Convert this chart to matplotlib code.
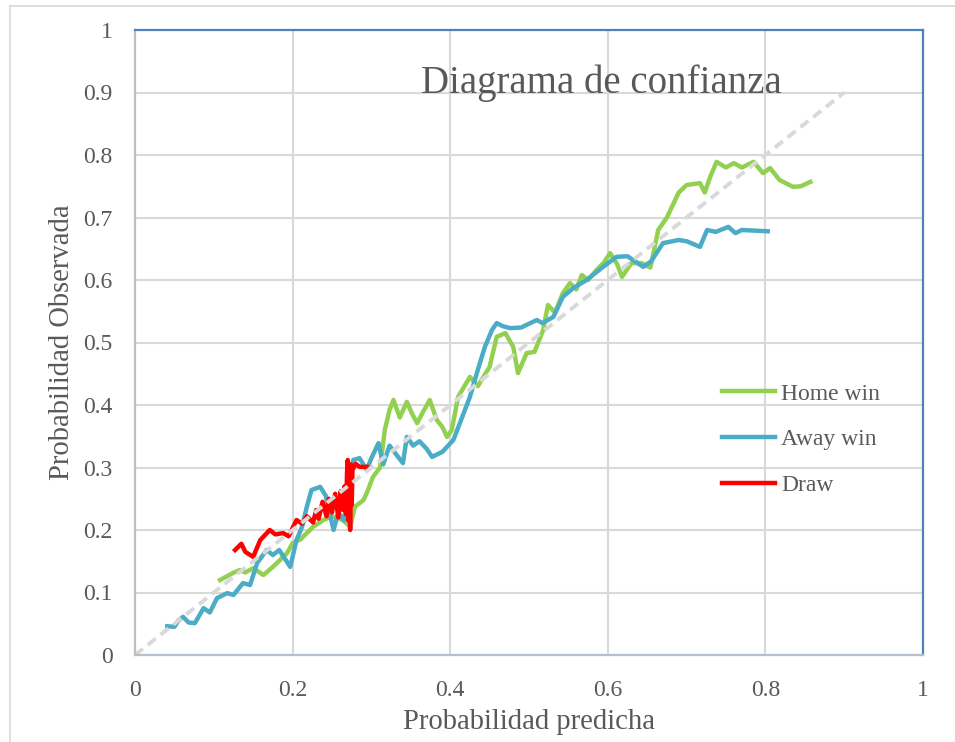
import matplotlib
matplotlib.use("Agg")
import matplotlib.pyplot as plt
from matplotlib.lines import Line2D

plt.rcParams['font.family'] = ['Liberation Serif', 'DejaVu Serif']

# datos
home_x = [0.108, 0.124, 0.133, 0.140, 0.150, 0.163, 0.175, 0.180, 0.193, 0.200,
          0.210, 0.226, 0.239, 0.250, 0.264, 0.273, 0.279, 0.290, 0.295, 0.302,
          0.311, 0.317, 0.323, 0.328, 0.336, 0.345, 0.352, 0.358, 0.366, 0.374,
          0.383, 0.390, 0.396, 0.402, 0.410, 0.418, 0.425, 0.435, 0.450, 0.459,
          0.470, 0.480, 0.486, 0.497, 0.507, 0.518, 0.524, 0.533, 0.543, 0.552,
          0.560, 0.567, 0.575, 0.585, 0.595, 0.603, 0.612, 0.618, 0.630, 0.643,
          0.654, 0.664, 0.675, 0.690, 0.700, 0.717, 0.723, 0.730, 0.738, 0.750,
          0.760, 0.770, 0.785, 0.797, 0.806, 0.818, 0.835, 0.845, 0.857]
home_y = [0.120, 0.131, 0.136, 0.132, 0.139, 0.128, 0.141, 0.147, 0.163, 0.179,
          0.185, 0.205, 0.216, 0.222, 0.216, 0.205, 0.237, 0.248, 0.262, 0.285,
          0.300, 0.360, 0.392, 0.408, 0.380, 0.405, 0.385, 0.371, 0.390, 0.408,
          0.376, 0.365, 0.349, 0.360, 0.413, 0.430, 0.445, 0.430, 0.461, 0.509,
          0.515, 0.493, 0.451, 0.483, 0.485, 0.520, 0.560, 0.548, 0.579, 0.595,
          0.585, 0.608, 0.600, 0.615, 0.628, 0.643, 0.625, 0.605, 0.627, 0.627,
          0.620, 0.680, 0.700, 0.740, 0.752, 0.755, 0.740, 0.765, 0.789, 0.780,
          0.787, 0.780, 0.789, 0.771, 0.779, 0.760, 0.749, 0.750, 0.757]

away_x = [0.041, 0.050, 0.055, 0.061, 0.068, 0.076, 0.087, 0.095, 0.104, 0.117,
          0.125, 0.137, 0.146, 0.155, 0.167, 0.175, 0.183, 0.197, 0.205, 0.212,
          0.218, 0.224, 0.235, 0.242, 0.247, 0.252, 0.258, 0.265, 0.277, 0.285,
          0.294, 0.300, 0.309, 0.315, 0.323, 0.332, 0.340, 0.345, 0.353, 0.361,
          0.370, 0.377, 0.390, 0.404, 0.412, 0.425, 0.435, 0.444, 0.453, 0.459,
          0.467, 0.476, 0.490, 0.510, 0.517, 0.531, 0.543, 0.556, 0.573, 0.594,
          0.611, 0.625, 0.645, 0.655, 0.670, 0.690, 0.700, 0.717, 0.726, 0.737,
          0.753, 0.762, 0.770, 0.803]
away_y = [0.046, 0.045, 0.055, 0.061, 0.052, 0.051, 0.075, 0.068, 0.091, 0.099,
          0.096, 0.115, 0.112, 0.147, 0.168, 0.160, 0.168, 0.141, 0.184, 0.205,
          0.237, 0.264, 0.269, 0.255, 0.227, 0.200, 0.228, 0.215, 0.312, 0.315,
          0.296, 0.315, 0.339, 0.305, 0.335, 0.320, 0.307, 0.349, 0.335, 0.342,
          0.330, 0.317, 0.325, 0.344, 0.370, 0.413, 0.456, 0.493, 0.520, 0.531,
          0.526, 0.523, 0.524, 0.536, 0.531, 0.541, 0.573, 0.587, 0.600, 0.621,
          0.637, 0.638, 0.621, 0.630, 0.659, 0.664, 0.662, 0.653, 0.680, 0.677,
          0.685, 0.675, 0.680, 0.678]

draw_x = [0.127, 0.135, 0.140, 0.150, 0.159, 0.171, 0.178, 0.188, 0.195, 0.205,
          0.212, 0.218, 0.226, 0.230, 0.233, 0.238, 0.243, 0.246, 0.250, 0.254,
          0.258, 0.261, 0.264, 0.266, 0.268, 0.269, 0.270, 0.271, 0.272, 0.273,
          0.274, 0.275, 0.276, 0.280, 0.285, 0.294]
draw_y = [0.168, 0.178, 0.165, 0.157, 0.184, 0.200, 0.193, 0.195, 0.190, 0.216,
          0.210, 0.222, 0.212, 0.232, 0.218, 0.245, 0.222, 0.250, 0.228, 0.258,
          0.220, 0.262, 0.232, 0.270, 0.225, 0.290, 0.312, 0.215, 0.300, 0.200,
          0.305, 0.240, 0.296, 0.306, 0.301, 0.301]

ticks = [0, 0.2, 0.4, 0.6, 0.8, 1]
yticks = [0, 0.1, 0.2, 0.3, 0.4, 0.5, 0.6, 0.7, 0.8, 0.9, 1]
tick_labels = ['0', '0.2', '0.4', '0.6', '0.8', '1']
ytick_labels = ['0', '0.1', '0.2', '0.3', '0.4', '0.5', '0.6', '0.7', '0.8', '0.9', '1']
diag = [0, 0.9]

W, H = 955, 742
fig = plt.figure(figsize=(W / 100, H / 100), dpi=100)
ax = fig.add_axes([135 / W, 1 - 655 / H, (923 - 135) / W, (655 - 30) / H])

txt = '#595959'
lw = 3.2
ax.plot(home_x, home_y, color='#92D050', lw=lw, solid_joinstyle='round', label='Home win')
ax.plot(away_x, away_y, color='#4BACC6', lw=lw, solid_joinstyle='round', label='Away win')
ax.plot(draw_x, draw_y, color='#FF0000', lw=lw, solid_joinstyle='round', label='Draw')
ax.plot(diag, diag, color='#d9d9d9', lw=2.8, linestyle=(0, (2.6, 1.6)))

ax.set_xlim(0, 1)
ax.set_ylim(0, 1)
ax.set_xticks(ticks)
ax.set_xticklabels(tick_labels)
ax.set_yticks(yticks)
ax.set_yticklabels(ytick_labels)
ax.tick_params(length=0, labelsize=17, labelcolor=txt)
ax.tick_params(axis='x', pad=18)
ax.tick_params(axis='y', pad=16)
ax.grid(True, color='#d9d9d9', lw=1.5)
ax.set_axisbelow(True)

ax.spines['top'].set_color('#4f81bd')
ax.spines['right'].set_color('#4f81bd')
ax.spines['left'].set_color('#bfbfbf')
ax.spines['bottom'].set_color('#b4c0cc')
for s in ax.spines.values():
    s.set_linewidth(1.6)

ax.set_xlabel('Probabilidad predicha', fontsize=20.6, color=txt, labelpad=6)
ax.set_ylabel('Probabilidad Observada', fontsize=20.6, color=txt, labelpad=6)
ax.text(0.363, 0.915, 'Diagrama de confianza', fontsize=28.0, color=txt,
        transform=ax.transAxes, ha='left', va='center')

leg = ax.legend(loc='upper left', bbox_to_anchor=(722 / W, 1 - 383 / H),
                bbox_transform=fig.transFigure, frameon=False, fontsize=17,
                handlelength=2.25, handletextpad=0.25, labelspacing=1.03,
                borderpad=0, borderaxespad=0)
for t in leg.get_texts():
    t.set_color(txt)

# marco exterior del grafico
fig.add_artist(Line2D([10 / W, 1], [1 - 6 / H, 1 - 6 / H], color='#d9d9d9', lw=1.2))
fig.add_artist(Line2D([10 / W, 10 / W], [0, 1 - 6 / H], color='#d9d9d9', lw=1.2))

fig.savefig('out.png', dpi=100)
